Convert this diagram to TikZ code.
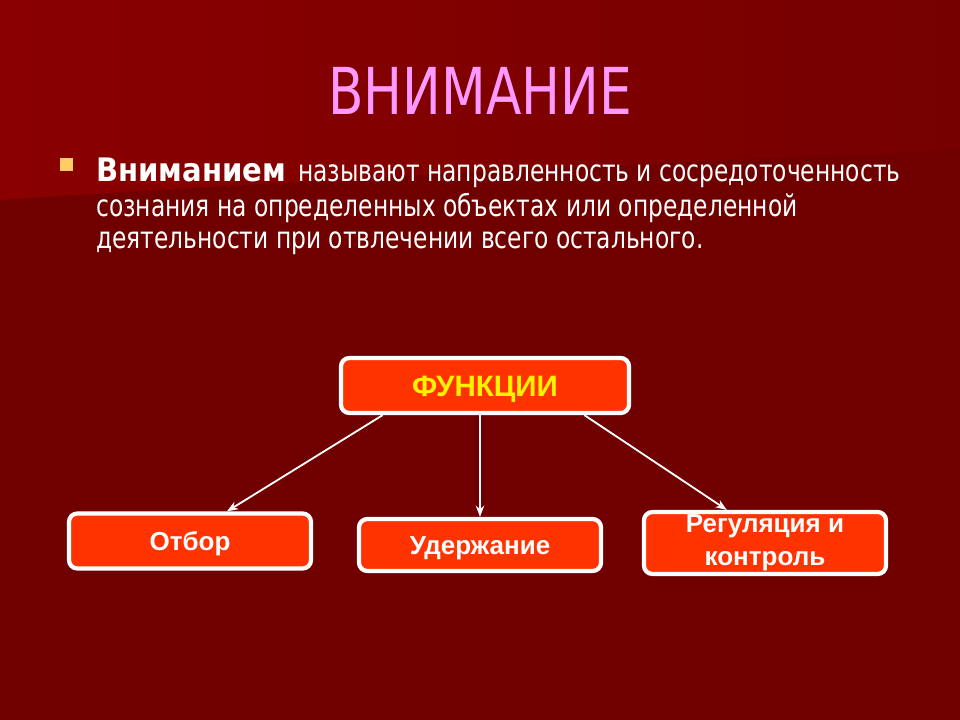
\documentclass[tikz,border=0pt]{standalone}
\usepackage{fontspec}
\setmainfont{DejaVu Sans}
\newfontfamily\slidefont[FakeStretch=0.78]{DejaVu Sans}
\newfontfamily\leadfont[FakeStretch=0.9]{DejaVu Sans}
\newfontfamily\titlefont[FakeStretch=0.8]{DejaVu Sans}
\newfontfamily\boxfont{Liberation Sans}
\usetikzlibrary{positioning,arrows.meta,calc}
\definecolor{bgdark}{HTML}{700000}
\definecolor{bglight}{HTML}{8A0000}
\definecolor{bgmid}{HTML}{760000}
\definecolor{boxred}{HTML}{FF3300}
\definecolor{titlepink}{HTML}{FF99FF}
\definecolor{bulletgold}{HTML}{FFCC66}

\begin{document}
\begin{tikzpicture}[x=0.025cm,y=-0.025cm,>={Stealth[length=8pt,width=6pt]},
    func/.style={draw=white,line width=3pt,fill=boxred,rounded corners=6pt,
      minimum width=6.05cm,minimum height=1.375cm,inner sep=2pt,align=center,
      text height=13.5pt,text depth=0pt,
      text=white,font=\boxfont\bfseries\fontsize{18.5}{23.5}\selectfont},
    link/.style={->,draw=white,line width=1.3pt},
    textline/.style={anchor=base west,inner sep=0pt,text=white,
      font=\slidefont\fontsize{21.3}{24}\selectfont}]
  % background
  \fill[bgdark] (0,0) rectangle (960,720);
  \shade[left color=bglight,right color=bgmid] (0,0) -- (960,0) -- (960,150)
    .. controls (600,165) and (300,180) .. (0,200) -- cycle;
  \useasboundingbox (0,0) rectangle (960,720);

  % title and definition
  \node[anchor=base,inner sep=0pt,text=titlepink,
    font=\titlefont\fontsize{46}{50}\selectfont] (title) at (480,115) {ВНИМАНИЕ};
  \fill[bulletgold] (60,158) rectangle (73,171);
  \node[textline] (line1) at (96,182) {{\leadfont\bfseries\fontsize{23}{26}\selectfont Вниманием}\hspace{3pt} называют направленность и сосредоточенность};
  \node[textline] (line2) at (96,217) {сознания на определенных объектах или определенной};
  \node[textline] (line3) at (96,249) {деятельности при отвлечении всего остального.};

  % functions
  \node[func,minimum width=7.2cm,text=yellow,text height=15.5pt,
    font=\boxfont\bfseries\fontsize{21}{24}\selectfont] (fun) at (485,385.5) {ФУНКЦИИ};
  \node[func] (otb) at (190,541) {Отбор};
  \node[func,minimum height=1.3cm] (ud) at (480,545) {Удержание};
  \node[func,text height=,text depth=] (reg) at (765,543) {Регуляция и\\контроль};

  \draw[link] ($(fun.south west)!0.15!(fun.south east)$) -- ($(otb.north)!0.3!(otb.north east)$);
  \draw[link] (fun.south -| ud.north) -- (ud.north);
  \draw[link] ($(fun.south west)!0.84!(fun.south east)$) -- ($(reg.north)!0.31!(reg.north west)$);
\end{tikzpicture}
\end{document}
